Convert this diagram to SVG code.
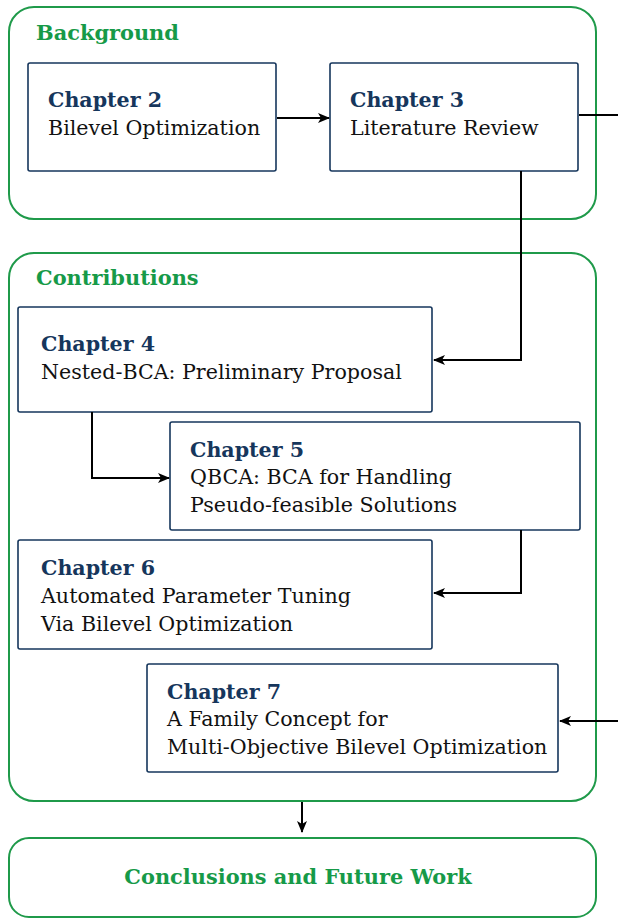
<svg xmlns="http://www.w3.org/2000/svg" width="618" height="919" viewBox="0 0 618 919">
<style>
.grp{fill:#fff;stroke:#1f9a4a;stroke-width:2}
.box{fill:#fff;stroke:#16365c;stroke-width:1.6}
.gl{font-family:"DejaVu Serif","Liberation Serif",serif;font-weight:bold;font-size:20.9px;fill:#169a48}
.ch{font-family:"DejaVu Serif","Liberation Serif",serif;font-weight:bold;font-size:20.6px;fill:#16365c}
.tx{font-family:"DejaVu Serif","Liberation Serif",serif;font-size:20.6px;fill:#111}
.con{fill:none;stroke:#000;stroke-width:2}
</style>
<defs>
<marker id="ah" markerWidth="12" markerHeight="10" refX="11" refY="5" orient="auto" markerUnits="userSpaceOnUse">
<path d="M0,0 L12,5 L0,10 L3,5 Z" fill="#000"/>
</marker>
</defs>
<g id="background">
<rect class="grp" x="9" y="7" width="587" height="212" rx="25"/>
<text class="gl" x="36" y="40">Background</text>
</g>
<g id="contributions">
<rect class="grp" x="9" y="253" width="587" height="548" rx="25"/>
<text class="gl" x="36" y="285">Contributions</text>
</g>
<g id="conclusions">
<rect class="grp" x="9" y="838" width="587" height="79" rx="20"/>
<text class="gl" x="298" y="884" text-anchor="middle">Conclusions and Future Work</text>
</g>
<g id="ch2">
<rect class="box" x="28" y="63" width="248" height="108" rx="2"/>
<text class="ch" x="48" y="107">Chapter 2</text>
<text class="tx" x="48" y="135">Bilevel Optimization</text>
</g>
<g id="ch3">
<rect class="box" x="330" y="63" width="248" height="108" rx="2"/>
<text class="ch" x="350" y="107">Chapter 3</text>
<text class="tx" x="350" y="135">Literature Review</text>
</g>
<g id="ch4">
<rect class="box" x="18" y="307" width="414" height="105" rx="2"/>
<text class="ch" x="41" y="351">Chapter 4</text>
<text class="tx" x="41" y="379">Nested-BCA: Preliminary Proposal</text>
</g>
<g id="ch5">
<rect class="box" x="170" y="422" width="410" height="108" rx="2"/>
<text class="ch" x="190" y="457">Chapter 5</text>
<text class="tx" x="190" y="484">QBCA: BCA for Handling</text>
<text class="tx" x="190" y="512">Pseudo-feasible Solutions</text>
</g>
<g id="ch6">
<rect class="box" x="18" y="540" width="414" height="109" rx="2"/>
<text class="ch" x="41" y="575">Chapter 6</text>
<text class="tx" x="41" y="603">Automated Parameter Tuning</text>
<text class="tx" x="41" y="631">Via Bilevel Optimization</text>
</g>
<g id="ch7">
<rect class="box" x="147" y="664" width="411" height="108" rx="2"/>
<text class="ch" x="167" y="699">Chapter 7</text>
<text class="tx" x="167" y="726">A Family Concept for</text>
<text class="tx" x="167" y="754">Multi-Objective Bilevel Optimization</text>
</g>
<g id="connectors">
<path class="con" d="M277,118 H329" marker-end="url(#ah)"/>
<path class="con" d="M579,115 H618"/>
<path class="con" d="M521,171 V360 H434" marker-end="url(#ah)"/>
<path class="con" d="M92,412 V478 H169" marker-end="url(#ah)"/>
<path class="con" d="M521,530 V593 H434" marker-end="url(#ah)"/>
<path class="con" d="M618,721 H560" marker-end="url(#ah)"/>
<path class="con" d="M302,802 V832" marker-end="url(#ah)"/>
</g>
</svg>
